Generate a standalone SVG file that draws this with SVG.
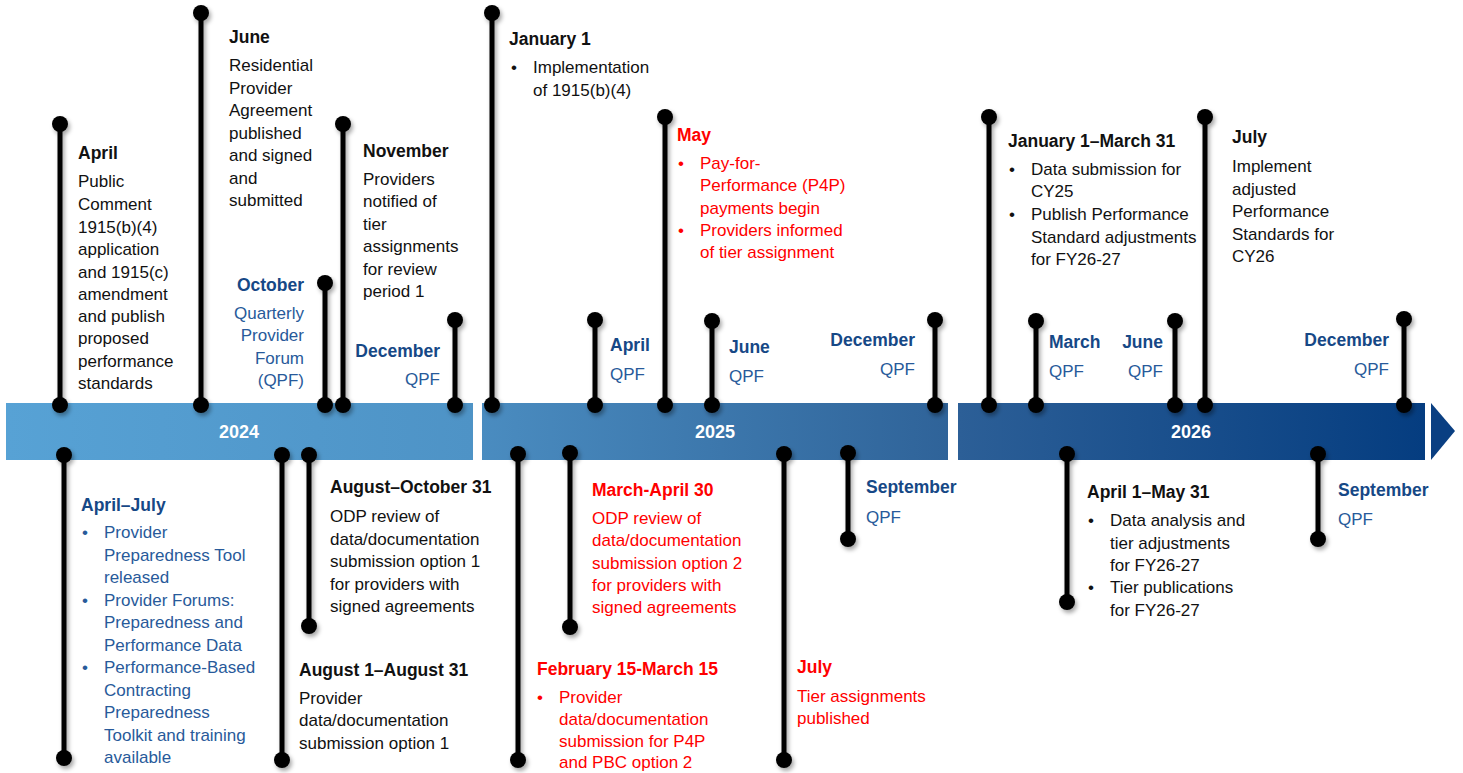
<svg xmlns="http://www.w3.org/2000/svg" width="1463" height="773" viewBox="0 0 1463 773">
<defs>
<linearGradient id="barGrad" gradientUnits="userSpaceOnUse" x1="6" y1="0" x2="1425" y2="0">
<stop offset="0" stop-color="#57a2d5"/>
<stop offset="0.329" stop-color="#4e93c6"/>
<stop offset="0.335" stop-color="#4a8cc0"/>
<stop offset="0.664" stop-color="#2f6399"/>
<stop offset="0.671" stop-color="#2c5f97"/>
<stop offset="1" stop-color="#053d80"/>
</linearGradient>
<filter id="shadow" x="-50%" y="-5%" width="200%" height="110%">
<feDropShadow dx="2" dy="3" stdDeviation="2" flood-color="#000" flood-opacity="0.35"/>
</filter>
</defs>
<style>
text{font-family:"Liberation Sans",Arial,sans-serif}
.h{font-size:17.5px;font-weight:bold}
.b{font-size:17px}
.yr{font-size:18px;font-weight:bold;fill:#fff;text-anchor:middle}
.k{fill:#111}
.bh{fill:#164886}
.bb{fill:#285a9a}
.r{fill:#ff0000}
.e{text-anchor:end}
.stem{stroke:#000;stroke-width:5}
.dot{fill:#000}
</style>
<rect width="1463" height="773" fill="#fff"/>
<g id="timeline">
<rect x="6" y="403" width="467" height="57" fill="url(#barGrad)"/>
<rect x="482" y="403" width="466" height="57" fill="url(#barGrad)"/>
<rect x="958" y="403" width="467" height="57" fill="url(#barGrad)"/>
<polygon points="1431,403 1455,431 1431,460" fill="#0a3f82"/>
<text class="yr" x="239" y="438">2024</text>
<text class="yr" x="715" y="438">2025</text>
<text class="yr" x="1191" y="438">2026</text>
</g>
<g id="connectors" filter="url(#shadow)">
<g class="stem">
<line x1="60" y1="124" x2="60" y2="405"/>
<line x1="201" y1="13" x2="201" y2="405"/>
<line x1="325" y1="283" x2="325" y2="405"/>
<line x1="343" y1="124" x2="343" y2="405"/>
<line x1="455" y1="320" x2="455" y2="405"/>
<line x1="492" y1="13" x2="492" y2="405"/>
<line x1="595" y1="320" x2="595" y2="405"/>
<line x1="665" y1="117" x2="665" y2="405"/>
<line x1="712" y1="321" x2="712" y2="405"/>
<line x1="935" y1="320" x2="935" y2="405"/>
<line x1="989" y1="117" x2="989" y2="405"/>
<line x1="1036" y1="321" x2="1036" y2="405"/>
<line x1="1175" y1="321" x2="1175" y2="405"/>
<line x1="1205" y1="117" x2="1205" y2="405"/>
<line x1="1404" y1="319" x2="1404" y2="405"/>
<line x1="64" y1="455" x2="64" y2="758"/>
<line x1="282" y1="455" x2="282" y2="760"/>
<line x1="309" y1="455" x2="309" y2="626"/>
<line x1="518" y1="454" x2="518" y2="760"/>
<line x1="570" y1="453" x2="570" y2="627"/>
<line x1="784" y1="454" x2="784" y2="760"/>
<line x1="848" y1="453" x2="848" y2="539"/>
<line x1="1067" y1="454" x2="1067" y2="602"/>
<line x1="1318" y1="454" x2="1318" y2="539"/>
</g>
<g class="dot">
<circle cx="60" cy="124" r="8"/><circle cx="60" cy="405" r="8"/>
<circle cx="201" cy="13" r="8"/><circle cx="201" cy="405" r="8"/>
<circle cx="325" cy="283" r="8"/><circle cx="325" cy="405" r="8"/>
<circle cx="343" cy="124" r="8"/><circle cx="343" cy="405" r="8"/>
<circle cx="455" cy="320" r="8"/><circle cx="455" cy="405" r="8"/>
<circle cx="492" cy="13" r="8"/><circle cx="492" cy="405" r="8"/>
<circle cx="595" cy="320" r="8"/><circle cx="595" cy="405" r="8"/>
<circle cx="665" cy="117" r="8"/><circle cx="665" cy="405" r="8"/>
<circle cx="712" cy="321" r="8"/><circle cx="712" cy="405" r="8"/>
<circle cx="935" cy="320" r="8"/><circle cx="935" cy="405" r="8"/>
<circle cx="989" cy="117" r="8"/><circle cx="989" cy="405" r="8"/>
<circle cx="1036" cy="321" r="8"/><circle cx="1036" cy="405" r="8"/>
<circle cx="1175" cy="321" r="8"/><circle cx="1175" cy="405" r="8"/>
<circle cx="1205" cy="117" r="8"/><circle cx="1205" cy="405" r="8"/>
<circle cx="1404" cy="319" r="8"/><circle cx="1404" cy="405" r="8"/>
<circle cx="64" cy="455" r="8"/><circle cx="64" cy="758" r="8"/>
<circle cx="282" cy="455" r="8"/><circle cx="282" cy="760" r="8"/>
<circle cx="309" cy="455" r="8"/><circle cx="309" cy="626" r="8"/>
<circle cx="518" cy="454" r="8"/><circle cx="518" cy="760" r="8"/>
<circle cx="570" cy="453" r="8"/><circle cx="570" cy="627" r="8"/>
<circle cx="784" cy="454" r="8"/><circle cx="784" cy="760" r="8"/>
<circle cx="848" cy="453" r="8"/><circle cx="848" cy="539" r="8"/>
<circle cx="1067" cy="454" r="8"/><circle cx="1067" cy="602" r="8"/>
<circle cx="1318" cy="454" r="8"/><circle cx="1318" cy="539" r="8"/>
</g>
</g>

<g id="apr2024">
<text class="h k" x="78" y="159">April</text>
<text class="b k" x="78" y="187">Public</text>
<text class="b k" x="78" y="210">Comment</text>
<text class="b k" x="78" y="233">1915(b)(4)</text>
<text class="b k" x="78" y="255">application</text>
<text class="b k" x="78" y="278">and 1915(c)</text>
<text class="b k" x="78" y="300">amendment</text>
<text class="b k" x="78" y="322">and publish</text>
<text class="b k" x="78" y="344">proposed</text>
<text class="b k" x="78" y="367">performance</text>
<text class="b k" x="78" y="389">standards</text>
</g>
<g id="jun2024">
<text class="h k" x="229" y="43">June</text>
<text class="b k" x="229" y="71">Residential</text>
<text class="b k" x="229" y="94">Provider</text>
<text class="b k" x="229" y="116">Agreement</text>
<text class="b k" x="229" y="139">published</text>
<text class="b k" x="229" y="161">and signed</text>
<text class="b k" x="229" y="184">and</text>
<text class="b k" x="229" y="206">submitted</text>
</g>
<g id="oct2024">
<text class="h bh e" x="304" y="291">October</text>
<text class="b bb e" x="304" y="319">Quarterly</text>
<text class="b bb e" x="304" y="341">Provider</text>
<text class="b bb e" x="304" y="364">Forum</text>
<text class="b bb e" x="304" y="386">(QPF)</text>
</g>
<g id="nov2024">
<text class="h k" x="363" y="157">November</text>
<text class="b k" x="363" y="185">Providers</text>
<text class="b k" x="363" y="207">notified of</text>
<text class="b k" x="363" y="230">tier</text>
<text class="b k" x="363" y="252">assignments</text>
<text class="b k" x="363" y="275">for review</text>
<text class="b k" x="363" y="297">period 1</text>
</g>
<g id="dec2024">
<text class="h bh e" x="440" y="357">December</text>
<text class="b bb e" x="440" y="385">QPF</text>
</g>
<g id="jan2025">
<text class="h k" x="509" y="45">January 1</text>
<text class="b k" x="511" y="73">•</text>
<text class="b k" x="533" y="73">Implementation</text>
<text class="b k" x="533" y="96">of 1915(b)(4)</text>
</g>
<g id="apr2025">
<text class="h bh" x="610" y="351">April</text>
<text class="b bb" x="610" y="380">QPF</text>
</g>
<g id="may2025">
<text class="h r" x="677" y="141">May</text>
<text class="b r" x="678" y="169">•</text>
<text class="b r" x="700" y="169">Pay-for-</text>
<text class="b r" x="700" y="191">Performance (P4P)</text>
<text class="b r" x="700" y="214">payments begin</text>
<text class="b r" x="678" y="236">•</text>
<text class="b r" x="700" y="236">Providers informed</text>
<text class="b r" x="700" y="258">of tier assignment</text>
</g>
<g id="jun2025">
<text class="h bh" x="729" y="353">June</text>
<text class="b bb" x="729" y="382">QPF</text>
</g>
<g id="dec2025">
<text class="h bh e" x="915" y="346">December</text>
<text class="b bb e" x="915" y="375">QPF</text>
</g>
<g id="janmar2026">
<text class="h k" x="1008" y="147">January 1–March 31</text>
<text class="b k" x="1009" y="175">•</text>
<text class="b k" x="1031" y="175">Data submission for</text>
<text class="b k" x="1031" y="197">CY25</text>
<text class="b k" x="1009" y="220">•</text>
<text class="b k" x="1031" y="220">Publish Performance</text>
<text class="b k" x="1031" y="243">Standard adjustments</text>
<text class="b k" x="1031" y="265">for FY26-27</text>
</g>
<g id="mar2026">
<text class="h bh" x="1049" y="348">March</text>
<text class="b bb" x="1049" y="377">QPF</text>
</g>
<g id="jun2026">
<text class="h bh e" x="1163" y="348">June</text>
<text class="b bb e" x="1163" y="377">QPF</text>
</g>
<g id="jul2026">
<text class="h k" x="1232" y="143">July</text>
<text class="b k" x="1232" y="172">Implement</text>
<text class="b k" x="1232" y="195">adjusted</text>
<text class="b k" x="1232" y="217">Performance</text>
<text class="b k" x="1232" y="240">Standards for</text>
<text class="b k" x="1232" y="262">CY26</text>
</g>
<g id="dec2026">
<text class="h bh e" x="1389" y="346">December</text>
<text class="b bb e" x="1389" y="375">QPF</text>
</g>

<g id="aprjul2024">
<text class="h bh" x="81" y="511">April–July</text>
<text class="b bb" x="82" y="538">•</text>
<text class="b bb" x="104" y="538">Provider</text>
<text class="b bb" x="104" y="561">Preparedness Tool</text>
<text class="b bb" x="104" y="583">released</text>
<text class="b bb" x="82" y="606">•</text>
<text class="b bb" x="104" y="606">Provider Forums:</text>
<text class="b bb" x="104" y="628">Preparedness and</text>
<text class="b bb" x="104" y="651">Performance Data</text>
<text class="b bb" x="82" y="673">•</text>
<text class="b bb" x="104" y="673">Performance-Based</text>
<text class="b bb" x="104" y="696">Contracting</text>
<text class="b bb" x="104" y="718">Preparedness</text>
<text class="b bb" x="104" y="741">Toolkit and training</text>
<text class="b bb" x="104" y="763">available</text>
</g>
<g id="aug2024">
<text class="h k" x="299" y="676">August 1–August 31</text>
<text class="b k" x="299" y="704">Provider</text>
<text class="b k" x="299" y="726">data/documentation</text>
<text class="b k" x="299" y="749">submission option 1</text>
</g>
<g id="augoct2024">
<text class="h k" x="330" y="493">August–October 31</text>
<text class="b k" x="330" y="522">ODP review of</text>
<text class="b k" x="330" y="545">data/documentation</text>
<text class="b k" x="330" y="567">submission option 1</text>
<text class="b k" x="330" y="590">for providers with</text>
<text class="b k" x="330" y="612">signed agreements</text>
</g>
<g id="febmar2025">
<text class="h r" x="537" y="675">February 15-March 15</text>
<text class="b r" x="537" y="703">•</text>
<text class="b r" x="559" y="703">Provider</text>
<text class="b r" x="559" y="725">data/documentation</text>
<text class="b r" x="559" y="747">submission for P4P</text>
<text class="b r" x="559" y="768">and PBC option 2</text>
</g>
<g id="marapr2025">
<text class="h r" x="592" y="496">March-April 30</text>
<text class="b r" x="592" y="524">ODP review of</text>
<text class="b r" x="592" y="546">data/documentation</text>
<text class="b r" x="592" y="569">submission option 2</text>
<text class="b r" x="592" y="591">for providers with</text>
<text class="b r" x="592" y="613">signed agreements</text>
</g>
<g id="jul2025">
<text class="h r" x="797" y="673">July</text>
<text class="b r" x="797" y="702">Tier assignments</text>
<text class="b r" x="797" y="724">published</text>
</g>
<g id="sep2025">
<text class="h bh" x="866" y="493">September</text>
<text class="b bb" x="866" y="523">QPF</text>
</g>
<g id="aprmay2026">
<text class="h k" x="1087" y="498">April 1–May 31</text>
<text class="b k" x="1088" y="526">•</text>
<text class="b k" x="1110" y="526">Data analysis and</text>
<text class="b k" x="1110" y="549">tier adjustments</text>
<text class="b k" x="1110" y="571">for FY26-27</text>
<text class="b k" x="1088" y="593">•</text>
<text class="b k" x="1110" y="593">Tier publications</text>
<text class="b k" x="1110" y="616">for FY26-27</text>
</g>
<g id="sep2026">
<text class="h bh" x="1338" y="496">September</text>
<text class="b bb" x="1338" y="525">QPF</text>
</g>
</svg>
